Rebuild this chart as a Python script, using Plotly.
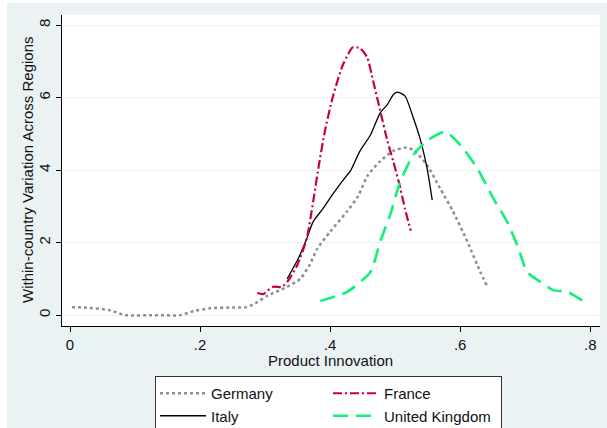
import plotly.graph_objects as go

# ---- data ----
germany_x = [0.003, 0.03, 0.06, 0.085, 0.13, 0.17, 0.19, 0.215, 0.25, 0.272, 0.288, 0.303, 0.334, 0.354,
             0.369, 0.38, 0.40, 0.426, 0.443, 0.457, 0.477, 0.497, 0.515, 0.528, 0.549, 0.569, 0.589,
             0.611, 0.631, 0.641]
germany_y = [0.22, 0.20, 0.14, 0.0, 0.0, 0.0, 0.11, 0.19, 0.21, 0.22, 0.36, 0.53, 0.78, 1.0,
             1.4, 1.83, 2.3, 2.86, 3.28, 3.83, 4.25, 4.53, 4.62, 4.56, 4.14, 3.5, 2.86,
             2.03, 1.19, 0.81]

italy_x = [0.334, 0.351, 0.364, 0.374, 0.389, 0.405, 0.426, 0.431, 0.446, 0.462, 0.477, 0.488, 0.497,
           0.503, 0.515, 0.528, 0.538, 0.549, 0.557]
italy_y = [1.0, 1.56, 2.11, 2.58, 2.94, 3.36, 3.86, 3.97, 4.53, 4.97, 5.58, 5.81, 6.08,
           6.15, 6.05, 5.44, 4.89, 4.06, 3.17]

france_x = [0.288, 0.297, 0.312, 0.326, 0.335, 0.349, 0.364, 0.374, 0.382, 0.392, 0.405, 0.42, 0.435,
            0.446, 0.457, 0.466, 0.477, 0.488, 0.497, 0.508, 0.515, 0.524]
france_y = [0.61, 0.58, 0.78, 0.78, 0.94, 1.36, 2.11, 3.14, 4.06, 5.08, 6.08, 6.92, 7.39,
            7.36, 7.11, 6.47, 5.64, 4.81, 4.25, 3.5, 2.94, 2.33]

uk_x = [0.385, 0.426, 0.462, 0.477, 0.492, 0.508, 0.528, 0.549, 0.577, 0.60, 0.626, 0.651, 0.672,
        0.688, 0.703, 0.723, 0.743, 0.765, 0.789]
uk_y = [0.39, 0.64, 1.19, 2.03, 2.75, 3.69, 4.42, 4.81, 5.06, 4.7, 4.06, 3.22, 2.58,
        1.92, 1.19, 0.92, 0.69, 0.64, 0.39]

x_ticks = [0, 0.2, 0.4, 0.6, 0.8]
x_tick_labels = ["0", ".2", ".4", ".6", ".8"]
y_ticks = [0, 2, 4, 6, 8]
y_tick_labels = ["0", "2", "4", "6", "8"]

BG = "#EAF2F3"
FONT = "Liberation Sans, Arial, sans-serif"

fig = go.Figure()
fig.add_trace(go.Scatter(x=germany_x, y=germany_y, mode="lines", name="Germany", legendgroup="c1",
                         line=dict(color="#8E8E8E", width=2.5, dash="3px,3px", shape="spline", smoothing=0.6)))
fig.add_trace(go.Scatter(x=italy_x, y=italy_y, mode="lines", name="Italy", legendgroup="c1",
                         line=dict(color="#000000", width=1.3, shape="spline", smoothing=0.6)))
fig.add_trace(go.Scatter(x=france_x, y=france_y, mode="lines", name="France", legendgroup="c2",
                         line=dict(color="#C8003A", width=2.2, dash="9px,3px,2px,3px", shape="spline", smoothing=0.6)))
fig.add_trace(go.Scatter(x=uk_x, y=uk_y, mode="lines", name="United Kingdom", legendgroup="c2",
                         line=dict(color="#12F07A", width=2.6, dash="15px,8px", shape="spline", smoothing=0.6)))

L, R, T, B = 62, 7, 15, 102
W, H = 607, 428
pw, ph = W - L - R, H - T - B

def px_x(p):
    return (p - L) / pw

def px_y(p):
    return (H - B - p) / ph

fig.update_layout(
    width=W, height=H,
    margin=dict(l=L, r=R, t=T, b=B, autoexpand=False),
    paper_bgcolor=BG, plot_bgcolor="white",
    font=dict(family=FONT, size=15, color="#111"),
    showlegend=True,
    legend=dict(orientation="h", xref="container", yref="container",
                x=155 / W, y=1 - 376 / H, xanchor="left", yanchor="top",
                bgcolor="white", bordercolor="#333333", borderwidth=1,
                entrywidth=112, entrywidthmode="pixels", itemwidth=46,
                traceorder="grouped", tracegroupgap=0,
                font=dict(family=FONT, size=15, color="#111")),
    xaxis=dict(range=[-0.0123, 0.815], tickvals=x_ticks, ticktext=x_tick_labels,
               showgrid=False, zeroline=False, showline=True, linecolor="#000", linewidth=1,
               ticks="outside", ticklen=5, tickcolor="#000",
               tickfont=dict(size=15, family=FONT, color="#111")),
    yaxis=dict(range=[-0.30, 8.28], tickvals=y_ticks, ticktext=y_tick_labels,
               showgrid=True, gridcolor=BG, gridwidth=1.2, zeroline=False,
               showline=True, linecolor="#000", linewidth=1,
               ticks="outside", ticklen=5, tickcolor="#000", tickangle=-90,
               tickfont=dict(size=15, family=FONT, color="#111")),
    annotations=[
        dict(text="Product Innovation", xref="paper", yref="paper", x=px_x(330), y=px_y(360),
             xanchor="center", yanchor="middle", showarrow=False, font=dict(size=15, family=FONT, color="#111")),
        dict(text="Within-country Variation Across Regions", xref="paper", yref="paper",
             x=px_x(27), y=px_y(170), xanchor="center", yanchor="middle", textangle=-90,
             showarrow=False, font=dict(size=15, family=FONT, color="#111")),
    ],
    shapes=[
        dict(type="rect", xref="paper", yref="paper", x0=px_x(0), x1=px_x(7), y0=px_y(H), y1=px_y(0),
             fillcolor="white", line=dict(width=0), layer="below"),
        dict(type="rect", xref="paper", yref="paper", x0=px_x(0), x1=px_x(W), y0=px_y(3), y1=px_y(0),
             fillcolor="white", line=dict(width=0), layer="below"),
    ],
)

fig.write_html("out.html")
